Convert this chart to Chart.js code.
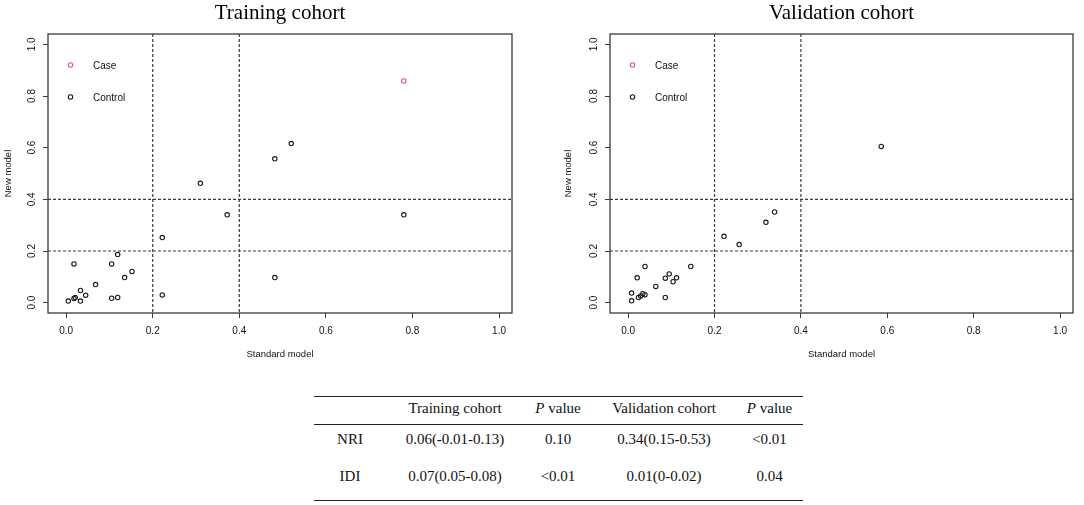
<!DOCTYPE html>
<html>
<head>
<meta charset="utf-8">
<script src="https://cdn.jsdelivr.net/npm/chart.js@4.4.1/dist/chart.umd.min.js"></script>
<style>
    body { margin: 0; background: #fff; width: 1084px; height: 505px; position: relative; overflow: hidden; }
    #train { position: absolute; left: 0; top: 0; }
    #valid { position: absolute; left: 560px; top: 0; }
    table {
        position: absolute; left: 314px; top: 396px;
        border-collapse: collapse;
        font-family: "Liberation Serif", "Times New Roman", serif;
        font-size: 15px; color: #111;
    }
    td, th { padding: 0; text-align: center; font-weight: normal; white-space: nowrap; }
    thead th { height: 23px; border-top: 1.5px solid #222; border-bottom: 1px solid #222; padding-bottom: 4px; }
    tbody tr:first-child td { height: 28px; }
    tbody tr:last-child td { height: 47px; border-bottom: 1.5px solid #222; }
</style>
</head>
<body>
<canvas id="train" width="540" height="370"></canvas>
<canvas id="valid" width="524" height="370"></canvas>
<table id="stats">
    <colgroup>
        <col style="width:72px"><col style="width:138px"><col style="width:68px"><col style="width:144px"><col style="width:67px">
    </colgroup>
    <thead><tr id="stats-head"></tr></thead>
    <tbody id="stats-body"></tbody>
</table>
<script>
// axis ticks and the risk cut-offs
const axisTicks = [0, 0.2, 0.4, 0.6, 0.8, 1.0];
const cutoffs = [0.2, 0.4];

// Training cohort: standard model (x) vs new model (y)
const trainCaseStd = [0.78];
const trainCaseNew = [0.858];
const trainCtrlStd = [0.52, 0.482, 0.31, 0.372, 0.78, 0.222, 0.119, 0.018, 0.105, 0.152, 0.135,
    0.482, 0.068, 0.033, 0.045, 0.222, 0.018, 0.021, 0.105, 0.119, 0.005, 0.033];
const trainCtrlNew = [0.616, 0.557, 0.462, 0.34, 0.34, 0.252, 0.186, 0.15, 0.15, 0.121, 0.097,
    0.097, 0.07, 0.047, 0.029, 0.03, 0.016, 0.02, 0.017, 0.02, 0.006, 0.006];

// Validation cohort
const validCaseStd = [];
const validCaseNew = [];
const validCtrlStd = [0.586, 0.339, 0.319, 0.222, 0.257, 0.145, 0.039, 0.021, 0.095, 0.086,
    0.112, 0.104, 0.064, 0.008, 0.008, 0.086, 0.024, 0.029, 0.034, 0.039];
const validCtrlNew = [0.605, 0.351, 0.311, 0.257, 0.225, 0.14, 0.14, 0.096, 0.111, 0.095,
    0.096, 0.081, 0.063, 0.037, 0.007, 0.02, 0.02, 0.026, 0.035, 0.031];

// NRI / IDI table
const tableHead = ['', 'Training cohort', '<i>P</i> value', 'Validation cohort', '<i>P</i> value'];
const tableRows = [
    ['NRI', '0.06(-0.01-0.13)', '0.10', '0.34(0.15-0.53)', '&lt;0.01'],
    ['IDI', '0.07(0.05-0.08)', '&lt;0.01', '0.01(0-0.02)', '0.04']
];

const CASE_COLOR = '#DF536B';
const CTRL_COLOR = '#1a1a1a';
const LINE_COLOR = '#3a3a3a';

Chart.defaults.font.family = '"Liberation Sans", Arial, sans-serif';
Chart.defaults.color = '#111';

function zip(xs, ys) {
    return xs.map((x, i) => ({ x: x, y: ys[i] }));
}

// box round the plot + dashed cut-off lines
const framePlugin = {
    id: 'frame',
    beforeDatasetsDraw(chart) {
        const { ctx, chartArea: a, scales: { x, y } } = chart;
        ctx.save();
        ctx.strokeStyle = LINE_COLOR;
        ctx.lineWidth = 1.2;
        ctx.setLineDash([3, 2]);
        cutoffs.forEach(c => {
            const px = x.getPixelForValue(c);
            const py = y.getPixelForValue(c);
            ctx.beginPath();
            ctx.moveTo(px, a.top);
            ctx.lineTo(px, a.bottom);
            ctx.moveTo(a.left, py);
            ctx.lineTo(a.right, py);
            ctx.stroke();
        });
        ctx.restore();
    },
    afterDraw(chart) {
        const { ctx, chartArea: a } = chart;
        ctx.save();
        ctx.strokeStyle = LINE_COLOR;
        ctx.lineWidth = 1.3;
        ctx.strokeRect(a.left, a.top, a.right - a.left, a.bottom - a.top);

        // legend inside the top-left corner
        ctx.font = '10px "Liberation Sans", Arial, sans-serif';
        ctx.textBaseline = 'middle';
        ctx.textAlign = 'left';
        chart.data.datasets.forEach((ds, i) => {
            const ly = a.top + 31 + i * 32;
            ctx.beginPath();
            ctx.lineWidth = 1.1;
            ctx.strokeStyle = ds.borderColor;
            ctx.arc(a.left + 22.5, ly, 2.2, 0, Math.PI * 2);
            ctx.stroke();
            ctx.fillStyle = '#111';
            ctx.fillText(ds.label, a.left + 45, ly + 1);
        });
        ctx.restore();
    }
};

function makeChart(id, title, caseStd, caseNew, ctrlStd, ctrlNew, yWidth, padRight) {
    const ctx = document.getElementById(id).getContext('2d');
    const tickFont = { size: 10 };
    const grid = { display: true, drawOnChartArea: false, drawTicks: true, tickLength: 5, color: LINE_COLOR, lineWidth: 1 };
    return new Chart(ctx, {
        type: 'scatter',
        data: {
            datasets: [
                { label: 'Case', data: zip(caseStd, caseNew), borderColor: CASE_COLOR },
                { label: 'Control', data: zip(ctrlStd, ctrlNew), borderColor: CTRL_COLOR }
            ].map(d => Object.assign(d, {
                backgroundColor: 'rgba(0,0,0,0)',
                pointRadius: 2.2,
                pointBorderWidth: 1.1,
                pointHoverRadius: 2.2
            }))
        },
        options: {
            responsive: false,
            animation: false,
            layout: { padding: { top: 0, right: padRight, bottom: 0, left: 0 } },
            plugins: {
                legend: { display: false },
                tooltip: { enabled: false },
                title: {
                    display: true,
                    text: title,
                    fullSize: false,
                    color: '#000',
                    font: { family: '"Liberation Serif", "Times New Roman", serif', size: 21, weight: 'normal' },
                    padding: { top: 1, bottom: 7.8 }
                }
            },
            scales: {
                x: {
                    type: 'linear',
                    min: -0.042,
                    max: 1.03,
                    afterBuildTicks: s => { s.ticks = axisTicks.map(v => ({ value: v })); },
                    afterFit: s => { s.height = 57; },
                    ticks: { font: tickFont, padding: 7, maxRotation: 0, callback: v => v.toFixed(1) },
                    grid: grid,
                    border: { display: false },
                    title: { display: true, text: 'Standard model', font: { size: 9.5 }, padding: { top: 0, bottom: 10 } }
                },
                y: {
                    type: 'linear',
                    min: -0.04,
                    max: 1.04,
                    afterBuildTicks: s => { s.ticks = axisTicks.map(v => ({ value: v })); },
                    afterFit: s => { s.width = yWidth; },
                    ticks: { font: tickFont, padding: 4, minRotation: 90, maxRotation: 90, crossAlign: 'center', callback: v => v.toFixed(1) },
                    grid: grid,
                    border: { display: false },
                    title: { display: true, text: 'New model', font: { size: 9.5 }, padding: { top: 3, bottom: 0 } }
                }
            }
        },
        plugins: [framePlugin]
    });
}

function buildTable() {
    document.getElementById('stats-head').innerHTML = tableHead.map(h => `<th>${h}</th>`).join('');
    document.getElementById('stats-body').innerHTML = tableRows
        .map(r => `<tr>${r.map(c => `<td>${c}</td>`).join('')}</tr>`)
        .join('');
}

makeChart('train', 'Training cohort', trainCaseStd, trainCaseNew, trainCtrlStd, trainCtrlNew, 48, 28);
makeChart('valid', 'Validation cohort', validCaseStd, validCaseNew, validCtrlStd, validCtrlNew, 50, 11);
buildTable();
</script>
</body>
</html>
